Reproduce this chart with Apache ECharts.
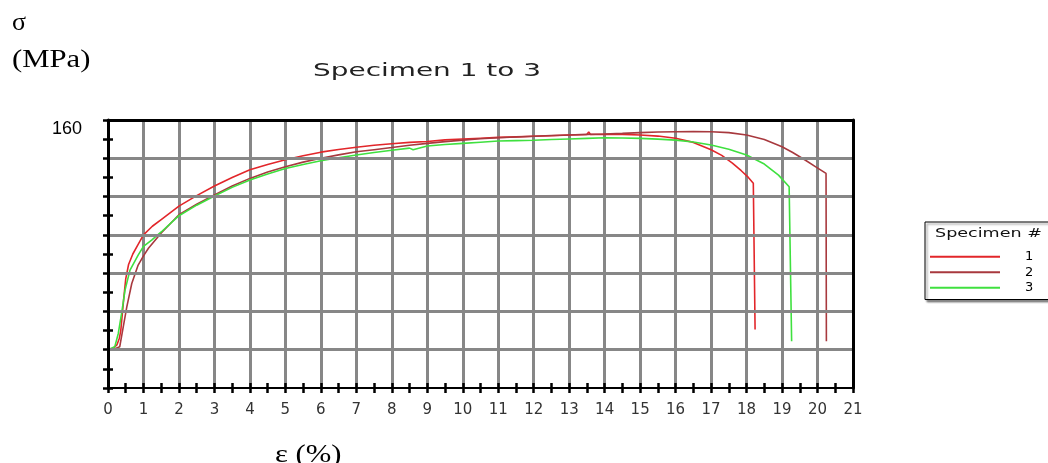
<!DOCTYPE html>
<html>
<head>
<meta charset="utf-8">
<script src="https://cdn.jsdelivr.net/npm/echarts@6/dist/echarts.min.js"></script>
<style>html,body{margin:0;padding:0;background:#fff;}#c{width:1048px;height:463px;}</style>
</head>
<body>
<div id="c"></div>
<script>
// ---- data ----
const xTicks = [0,1,2,3,4,5,6,7,8,9,10,11,12,13,14,15,16,17,18,19,20,21];
const yTopLabel = '160';
const seriesNames = ['1', '2', '3'];

const strain1 = [0,0.15,0.25,0.32,0.36,0.40,0.44,0.50,0.58,0.70,0.85,1.0,1.25,1.5,1.75,2.0,2.5,3.0,3.05,3.5,4.0,4.5,5.0,5.5,6.0,6.05,6.5,7.0,7.05,7.5,8.0,8.05,8.5,9.0,9.05,9.5,10,10.5,10.55,11,11.5,12,12.5,13,13.5,13.55,13.6,14,14.5,15,15.5,16,16.5,17,17.3,17.6,17.85,18.05,18.19,18.24];
const stress1 = [40,40.8,42.5,46,50,58,66,77,84.5,90,95,100,104.5,108,111.5,115,120.5,125.5,126.3,130,134,136.8,139.2,141.3,143.2,142.4,144.6,145.8,145.0,146.8,147.6,146.9,148.3,148.8,148.2,149.6,150.1,150.5,149.9,150.9,151.2,151.5,151.8,152.2,152.4,153.8,152.4,152.5,152.5,152.2,151.6,150.5,148.3,144.5,141.5,137.5,133.5,130,127,50.6];

const strain2 = [0,0.2,0.33,0.43,0.53,0.67,0.85,1.0,1.14,1.5,2.0,2.5,3.0,3.5,3.55,4.0,4.5,5.0,5.5,5.55,6.0,6.5,7.0,7.05,7.5,8.0,8.5,9.0,9.5,10,10.5,11,11.5,12,12.5,13,13.5,14,14.5,15,15.5,16,16.5,17,17.5,18,18.5,19,19.3,19.65,19.95,20.24,20.25];
const stress2 = [40,40.5,41.5,51.9,62.4,74.6,84.2,89,93,101,110.5,116,120.8,125.5,126.5,129.5,132.8,135.6,138,138.9,140,141.8,143.4,142.7,144.5,145.6,146.8,147.8,148.7,149.5,150.2,150.7,151.1,151.5,151.9,152.2,152.5,152.7,153,153.4,153.7,153.9,154,153.9,153.4,152.2,149.8,146,143,139.1,135.5,132.1,44.4];

const strain3 = [0,0.19,0.29,0.39,0.48,0.62,0.85,1.0,1.23,1.5,2.0,2.5,3.0,3.5,4.0,4.5,5.0,5.5,6.0,6.5,7.0,7.5,8.0,8.5,8.6,9.0,9.5,10,10.5,11,11.5,12,12.5,13,13.5,14,14.5,15,15.5,16,16.5,17,17.5,18,18.5,18.9,19.2,19.27];
const stress3 = [40,41.5,48.5,59.8,71.1,81.6,89.4,94,97.3,101.5,110,115.5,120.3,124.8,128.6,131.8,134.7,136.8,138.7,140.3,141.7,143,144.2,145.3,144.5,146.4,147.2,147.8,148.4,149,149.2,149.4,149.8,150.1,150.4,150.7,150.6,150.4,150,149.5,148.5,146.9,144.7,141.7,137,131.2,125.1,44.4];

const colors = ['#e2262a', '#a8393e', '#3fe03f'];

function pairs(xs, ys) { return xs.map((x, i) => [x, ys[i]]); }
const seriesData = [pairs(strain1, stress1), pairs(strain2, stress2), pairs(strain3, stress3)];

const chart = echarts.init(document.getElementById('c'), null, {renderer: 'canvas'});
const gridLine = {show: true, showMinLine: false, showMaxLine: false, lineStyle: {color: '#878787', width: 3}};

const option = {
  animation: false,
  backgroundColor: '#ffffff',
  grid: {left: 108, top: 120, width: 745, height: 268, containLabel: false},
  xAxis: [
    {type: 'value', min: 0, max: 21, interval: 1, position: 'bottom',
     axisLine: {show: true, onZero: false, lineStyle: {color: '#000', width: 2}},
     axisTick: {show: true, length: 5, lineStyle: {color: '#000', width: 2.5}},
     minorTick: {show: true, splitNumber: 2, length: 5, lineStyle: {color: '#000', width: 2.5}},
     axisLabel: {show: true, margin: 15, fontSize: 15, fontFamily: 'DejaVu Sans', color: '#333',
       formatter: v => xTicks.indexOf(v) >= 0 ? String(v) : ''},
     splitLine: gridLine},
    {type: 'value', min: 0, max: 21, interval: 1, position: 'bottom',
     axisLine: {show: false}, axisLabel: {show: false}, splitLine: {show: false},
     axisTick: {show: true, inside: true, length: 5, lineStyle: {color: '#000', width: 2.5}},
     minorTick: {show: true, splitNumber: 2, length: 5, lineStyle: {color: '#000', width: 2.5}}},
    {type: 'value', min: 0, max: 21, interval: 1, position: 'top', z: 5,
     axisLine: {show: true, onZero: false, lineStyle: {color: '#000', width: 3}},
     axisTick: {show: false}, axisLabel: {show: false}, splitLine: {show: false}}
  ],
  yAxis: [
    {type: 'value', min: 20, max: 160, interval: 20, position: 'left', z: 5,
     axisLine: {show: true, onZero: false, lineStyle: {color: '#000', width: 3}},
     axisTick: {show: true, length: 5, lineStyle: {color: '#000', width: 2.5}},
     minorTick: {show: true, splitNumber: 2, length: 5, lineStyle: {color: '#000', width: 2.5}},
     axisLabel: {show: true, margin: 26, fontSize: 18, fontFamily: 'Liberation Sans', color: '#000',
       verticalAlign: 'top', formatter: v => (String(v) === yTopLabel ? yTopLabel : '')},
     splitLine: gridLine},
    {type: 'value', min: 20, max: 160, interval: 20, position: 'left',
     axisLine: {show: false}, axisLabel: {show: false}, splitLine: {show: false},
     axisTick: {show: true, inside: true, length: 5, lineStyle: {color: '#000', width: 2.5}},
     minorTick: {show: true, splitNumber: 2, length: 5, lineStyle: {color: '#000', width: 2.5}}},
    {type: 'value', min: 20, max: 160, interval: 20, position: 'right', z: 5,
     axisLine: {show: true, onZero: false, lineStyle: {color: '#000', width: 3}},
     axisTick: {show: false}, axisLabel: {show: false}, splitLine: {show: false}}
  ],
  legend: {
    show: true, orient: 'vertical', left: 925, top: 222,
    data: seriesNames.map(n => ({name: n, icon: 'rect'})),
    icon: 'rect',
    itemWidth: 70, itemHeight: 2, itemGap: 0,
    backgroundColor: '#fff', borderColor: '#000', borderWidth: 1,
    shadowColor: 'rgba(0,0,0,0.45)', shadowOffsetX: 2, shadowOffsetY: 2, shadowBlur: 2,
    padding: [27, 30, 4, 5],
    textStyle: {fontSize: 13, lineHeight: 15.5, fontFamily: 'DejaVu Sans', color: '#000', padding: [0, 0, 0, 20]}
  },
  graphic: [
    {type: 'text', x: 427, y: 71, scaleX: 1.55, z: 100,
     style: {text: 'Specimen 1 to 3', font: '18px "DejaVu Sans"', fill: '#222', textAlign: 'center', textVerticalAlign: 'middle'}},
    {type: 'text', x: 935, y: 234, scaleX: 1.35, z: 100,
     style: {text: 'Specimen #', font: '13px "DejaVu Sans"', fill: '#111', textAlign: 'left', textVerticalAlign: 'middle'}},
    {type: 'text', x: 12, y: 36, z: 100,
     style: {text: 'σ', font: '26px "Liberation Serif"', fill: '#000', textAlign: 'left', textVerticalAlign: 'bottom'}},
    {type: 'text', x: 12, y: 73, scaleX: 1.18, z: 100,
     style: {text: '(MPa)', font: '26px "Liberation Serif"', fill: '#000', textAlign: 'left', textVerticalAlign: 'bottom'}},
    {type: 'text', x: 275, y: 468, scaleX: 1.18, z: 100,
     style: {text: 'ε (%)', font: '26px "Liberation Serif"', fill: '#000', textAlign: 'left', textVerticalAlign: 'bottom'}}
  ],
  series: seriesNames.map((n, i) => ({
    name: n, type: 'line', xAxisIndex: 0, yAxisIndex: 0,
    data: seriesData[i], symbol: 'none', showSymbol: false, smooth: false,
    color: colors[i], lineStyle: {color: colors[i], width: 1.6}, z: 3
  }))
};
chart.setOption(option);
</script>
</body>
</html>
